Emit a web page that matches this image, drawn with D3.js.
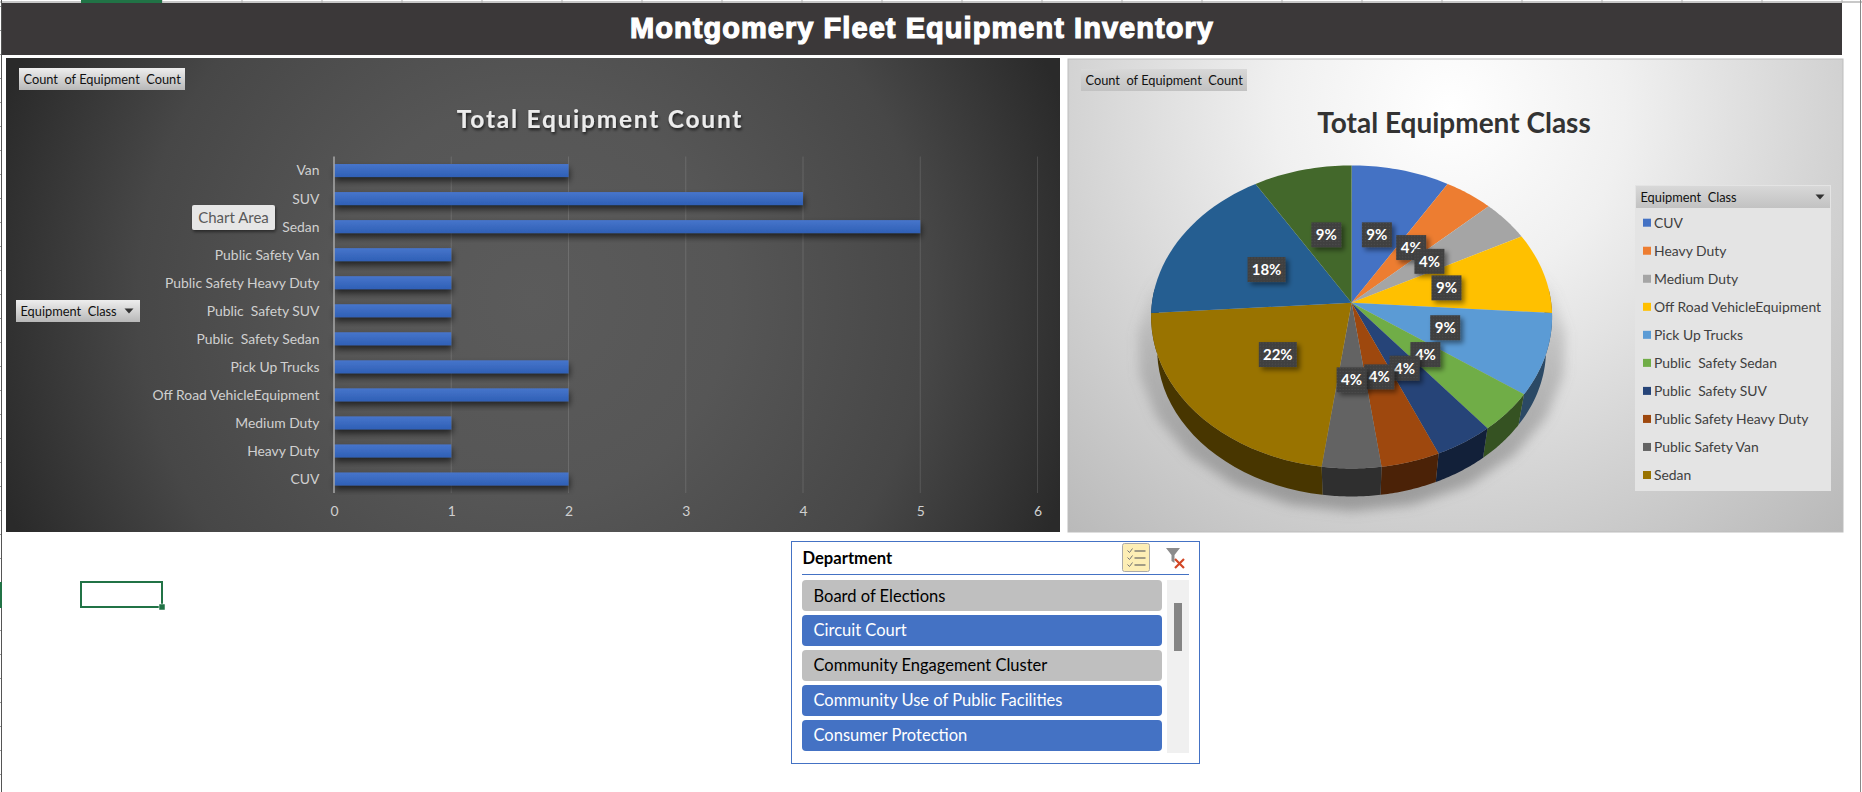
<!DOCTYPE html>
<html>
<head>
<meta charset="utf-8">
<script src="https://cdnjs.cloudflare.com/ajax/libs/d3/7.8.5/d3.min.js"></script>
<style>
  body { margin: 0; background: #fff; overflow: hidden; }
  svg { display: block; }
  text { font-family: Lato, "Open Sans", sans-serif; white-space: pre; }
</style>
</head>
<body>
<svg id="canvas"></svg>
<script>
const w = 1862, h = 792;

// data
const categories = ["CUV", "Heavy Duty", "Medium Duty", "Off Road VehicleEquipment", "Pick Up Trucks",
  "Public  Safety Sedan", "Public  Safety SUV", "Public Safety Heavy Duty", "Public Safety Van", "Sedan", "SUV", "Van"];
const counts = [2, 1, 1, 2, 2, 1, 1, 1, 1, 5, 4, 2];
const pieLabels = ["9%", "4%", "4%", "9%", "9%", "4%", "4%", "4%", "4%", "22%", "18%", "9%"];
const pieColors = ["#4472c4", "#ed7d31", "#a5a5a5", "#ffc000", "#5b9bd5", "#70ad47",
  "#264478", "#9e480e", "#636363", "#997300", "#255e91", "#43682b"];
const legendCount = 10; // the last two entries are cut off in the legend box
const xTicks = [0, 1, 2, 3, 4, 5, 6];
const departments = ["Board of Elections", "Circuit Court", "Community Engagement Cluster",
  "Community Use of Public Facilities", "Consumer Protection"];
const deptHasData = [false, true, false, true, true];

const svg = d3.select("#canvas").attr("width", w).attr("height", h);
const defs = svg.append("defs");

function gradient(id, stops, attrs, type) {
  const g = defs.append(type || "linearGradient").attr("id", id);
  Object.entries(attrs || {x1: 0, y1: 0, x2: 0, y2: 1}).forEach(([k, v]) => g.attr(k, v));
  stops.forEach(s => g.append("stop").attr("offset", s[0]).attr("stop-color", s[1]).attr("stop-opacity", s[2] === undefined ? 1 : s[2]));
}
gradient("bgDark", [[0, "#5b5b5b"], [0.35, "#565656"], [0.7, "#474747"], [1, "#2a2a2a"]],
  {gradientUnits: "userSpaceOnUse", cx: 533, cy: 300, r: 565}, "radialGradient");
gradient("bgLight", [[0, "#ffffff"], [0.3, "#f0f0f0"], [0.62, "#d6d6d6"], [1, "#b8b8b8"]],
  {gradientUnits: "userSpaceOnUse", cx: 1450, cy: 110, r: 580}, "radialGradient");
gradient("barFill", [[0, "#4775cb"], [1, "#2f60b6"]]);
gradient("btnDark", [[0, "#eeeeee"], [1, "#b8b8b8"]]);
gradient("btnLight", [[0, "#d8d8d8"], [1, "#c2c2c2"]]);
gradient("shadowFade", [[0, "#777", 0], [0.35, "#808080", 0.35], [1, "#777", 0.6]],
  {gradientUnits: "userSpaceOnUse", x1: 0, y1: 260, x2: 0, y2: 500});

const blur = (id, sd) => defs.append("filter").attr("id", id)
  .attr("x", "-20%").attr("y", "-20%").attr("width", "140%").attr("height", "140%")
  .append("feGaussianBlur").attr("stdDeviation", sd);
blur("blur6", 6);
const drop = (id, dx, dy, sd, op) => defs.append("filter").attr("id", id)
  .attr("x", "-30%").attr("y", "-50%").attr("width", "170%").attr("height", "220%")
  .append("feDropShadow").attr("dx", dx).attr("dy", dy).attr("stdDeviation", sd)
  .attr("flood-color", "#000").attr("flood-opacity", op);
drop("barShadow", 1, 4, 3, 0.6);
drop("textShadow", 1, 2, 1.5, 0.7);
drop("boxShadow", 3, 3, 2.5, 0.45);
drop("tipShadow", 1, 2, 1.5, 0.45);

const dots = defs.append("pattern").attr("id", "dots").attr("width", 3).attr("height", 3).attr("patternUnits", "userSpaceOnUse");
dots.append("rect").attr("width", 3).attr("height", 3).attr("fill", "#404040");
dots.append("rect").attr("width", 1).attr("height", 1).attr("fill", "#4f4f4f");

// --- sheet chrome ---
const chrome = svg.append("g");
chrome.append("rect").attr("x", 0).attr("y", 1).attr("width", w).attr("height", 2).attr("fill", "#c8c8c8");
chrome.selectAll(".col").data(d3.range(81.5, w, 80)).enter().append("rect")
  .attr("x", d => d).attr("y", 0).attr("width", 1).attr("height", 3).attr("fill", "#b0b0b0");
chrome.append("rect").attr("x", 81).attr("y", 0).attr("width", 81).attr("height", 3).attr("fill", "#217346");
chrome.selectAll(".row").data(d3.range(6, h, 24)).enter().append("rect")
  .attr("x", 0).attr("y", d => d).attr("width", 2).attr("height", 1).attr("fill", "#9a9a9a");
chrome.append("rect").attr("x", 1).attr("y", 0).attr("width", 1).attr("height", h).attr("fill", "#555");
chrome.append("rect").attr("x", 0).attr("y", 582).attr("width", 2).attr("height", 26).attr("fill", "#217346");
chrome.append("rect").attr("x", 1860).attr("y", 0).attr("width", 1).attr("height", h).attr("fill", "#888");
chrome.append("rect").attr("x", 81).attr("y", 582).attr("width", 81).attr("height", 25)
  .attr("fill", "none").attr("stroke", "#217346").attr("stroke-width", 2);
chrome.append("rect").attr("x", 159).attr("y", 604).attr("width", 6).attr("height", 6)
  .attr("fill", "#217346").attr("stroke", "#fff").attr("stroke-width", 0.5);

// --- banner ---
svg.append("rect").attr("x", 2).attr("y", 3).attr("width", 1840).attr("height", 52).attr("fill", "#3b3839");
svg.append("text").attr("x", 922).attr("y", 37.5).attr("text-anchor", "middle")
  .style("font-family", "'Liberation Sans', Arial, sans-serif").style("font-weight", 700).style("font-size", "29px")
  .style("letter-spacing", "1.05px")
  .attr("fill", "#fff").attr("stroke", "#fff").attr("stroke-width", 1.2).text("Montgomery Fleet Equipment Inventory");

// field button helper
function fieldButton(x, y, bw, bh, label, fill, arrow) {
  const g = svg.append("g");
  g.append("rect").attr("x", x).attr("y", y).attr("width", bw).attr("height", bh).attr("fill", fill);
  g.append("text").attr("x", x + 4.5).attr("y", y + bh / 2 + 4.5).attr("fill", "#111")
    .style("font-size", "12.8px").text(label);
  if (arrow) {
    g.append("path").attr("fill", "#333")
      .attr("d", `M${arrow - 4.5},${y + bh / 2 - 2.5}h9l-4.5,5z`);
  }
}

// --- left chart: horizontal bars ---
svg.append("rect").attr("x", 6).attr("y", 58).attr("width", 1054).attr("height", 474).attr("fill", "url(#bgDark)");

const x = d3.scaleLinear().domain([0, 6]).range([334, 1037.5]);
const y = d3.scaleBand().domain(categories).range([493, 156.5]).paddingInner(0.536).paddingOuter(0.268);

svg.append("g").selectAll("line").data(xTicks.slice(1)).enter().append("line")
  .attr("x1", d => x(d)).attr("x2", d => x(d)).attr("y1", 156.5).attr("y2", 493)
  .attr("stroke", "#fff").attr("stroke-opacity", 0.13).attr("stroke-width", 1);

svg.append("g").selectAll("rect").data(categories).enter().append("rect")
  .attr("x", x(0)).attr("y", d => y(d))
  .attr("width", (d, i) => x(counts[i]) - x(0)).attr("height", y.bandwidth())
  .attr("fill", "url(#barFill)").attr("filter", "url(#barShadow)");

svg.append("line").attr("x1", x(0)).attr("x2", x(0)).attr("y1", 156.5).attr("y2", 493)
  .attr("stroke", "#a8a8a8").attr("stroke-width", 1.5);

const xAxis = svg.append("g").attr("transform", "translate(0,493)")
  .call(d3.axisBottom(x).tickValues(xTicks).tickFormat(d3.format("d")).tickSize(0).tickPadding(13));
xAxis.select(".domain").remove();
xAxis.selectAll("text").attr("fill", "#d0d0d0").style("font-size", "13.9px").style("font-family", "Lato");

const yAxis = svg.append("g").attr("transform", "translate(334,0.5)").call(d3.axisLeft(y).tickSize(0).tickPadding(14.5));
yAxis.select(".domain").remove();
yAxis.selectAll("text").attr("fill", "#d0d0d0").style("font-size", "13.9px").style("font-family", "Lato");

svg.append("text").attr("x", 600).attr("y", 127.5).attr("text-anchor", "middle")
  .attr("fill", "#ececec").attr("filter", "url(#textShadow)")
  .style("font-size", "24.5px").style("font-weight", 700).style("letter-spacing", "1.75px")
  .text("Total Equipment Count");

fieldButton(19, 68, 166, 22, "Count  of Equipment  Count", "url(#btnDark)");
fieldButton(16, 300, 124, 22, "Equipment  Class", "url(#btnDark)", 129);

svg.append("rect").attr("x", 192).attr("y", 205).attr("width", 83).attr("height", 25).attr("rx", 2)
  .attr("fill", "#e6e6e6").attr("filter", "url(#tipShadow)");
svg.append("text").attr("x", 233.5).attr("y", 223).attr("text-anchor", "middle").attr("fill", "#595959")
  .style("font-size", "15px").text("Chart Area");

// --- right chart: pie in perspective ---
svg.append("rect").attr("x", 1068).attr("y", 59).attr("width", 775).attr("height", 473)
  .attr("fill", "url(#bgLight)").attr("stroke", "#bdbdbd").attr("stroke-width", 1);

const cx = 1351.6, cy = 302.7, rx = 199.6, ry = 150.2, persp = 0.0938;
const wallDrop = 33.5, wallScale = 0.97;
function project(angle, f, drop) {
  const u = Math.sin(angle) * f, v = Math.cos(angle) * f, k = 1 + persp * v;
  return [cx + rx * u / k, cy - ry * v / k + (drop || 0)];
}
const arcAngles = (a0, a1) => d3.range(0, 25).map(i => a0 + (a1 - a0) * i / 24);
const poly = d3.line();
const slices = d3.pie().sort(null)(counts);
const pie = svg.append("g");

// soft shadow under the pie
pie.append("path")
  .attr("d", poly(arcAngles(0, Math.PI * 2).map(a => project(a, 1.07, 30))) + "Z")
  .attr("fill", "url(#shadowFade)").attr("filter", "url(#blur6)");

// side walls, only the part facing the viewer
pie.selectAll(".wall").data(slices).enter().append("path")
  .attr("d", d => {
    const a0 = Math.max(d.startAngle, Math.PI * 0.47), a1 = Math.min(d.endAngle, Math.PI * 1.53);
    if (a1 <= a0) return null;
    const top = arcAngles(a0, a1).map(a => project(a, 1));
    const bot = arcAngles(a1, a0).map(a => project(a, wallScale, wallDrop));
    return poly(top.concat(bot)) + "Z";
  })
  .attr("fill", d => d3.rgb(pieColors[d.index]).darker(2.1));

pie.selectAll(".slice").data(slices).enter().append("path")
  .attr("d", d => poly([[cx, cy]].concat(arcAngles(d.startAngle, d.endAngle).map(a => project(a, 1)))) + "Z")
  .attr("fill", d => pieColors[d.index]);

const labels = pie.selectAll(".lab").data(slices).enter().append("g")
  .attr("transform", d => `translate(${project((d.startAngle + d.endAngle) / 2, 0.49)})`);
labels.append("rect")
  .attr("x", (d, i) => pieLabels[i].length > 2 ? -19 : -15).attr("y", -12.5)
  .attr("width", (d, i) => pieLabels[i].length > 2 ? 38 : 30).attr("height", 25)
  .attr("fill", "url(#dots)").attr("filter", "url(#boxShadow)");
labels.append("text").attr("text-anchor", "middle").attr("y", 5.5)
  .attr("fill", "#fff").style("font-size", "15px").style("font-weight", 700)
  .text((d, i) => pieLabels[i]);

svg.append("text").attr("x", 1454).attr("y", 133).attr("text-anchor", "middle").attr("fill", "#333")
  .style("font-size", "28px").style("font-weight", 700).text("Total Equipment Class");

fieldButton(1081, 69, 166, 22, "Count  of Equipment  Count", "url(#btnLight)");

// legend
svg.append("rect").attr("x", 1635).attr("y", 185).attr("width", 196).attr("height", 306).attr("fill", "#e4e4e4");
fieldButton(1636, 186, 194, 22, "Equipment  Class", "url(#btnLight)", 1820);
const legendY = d3.scalePoint().domain(categories.slice(0, legendCount)).range([222.7, 475]);
const legend = svg.append("g").selectAll("g").data(categories.slice(0, legendCount)).enter().append("g")
  .attr("transform", d => `translate(1643,${legendY(d)})`);
legend.append("rect").attr("y", -4).attr("width", 8).attr("height", 8).attr("fill", (d, i) => pieColors[i]);
legend.append("text").attr("x", 11).attr("y", 5).attr("fill", "#404040").style("font-size", "13.9px").text(d => d);

// --- slicer ---
const sl = svg.append("g");
sl.append("rect").attr("x", 791.5).attr("y", 541.5).attr("width", 408).attr("height", 222)
  .attr("fill", "#fff").attr("stroke", "#4472c4").attr("stroke-width", 1);
sl.append("text").attr("x", 802.5).attr("y", 564).attr("fill", "#000")
  .style("font-size", "16.6px").style("font-weight", 700).text("Department");
sl.append("line").attr("x1", 802).attr("x2", 1189).attr("y1", 574.5).attr("y2", 574.5).attr("stroke", "#4472c4");

const rowY = d3.scaleBand().domain(departments).range([580, 751]).paddingInner(0.114).paddingOuter(0);
const rows = sl.selectAll(".dept").data(departments).enter().append("g")
  .attr("transform", d => `translate(802,${rowY(d)})`);
rows.append("rect").attr("width", 360).attr("height", rowY.bandwidth()).attr("rx", 4)
  .attr("fill", (d, i) => deptHasData[i] ? "#4472c4" : "#bfbfbf");
rows.append("text").attr("x", 11.5).attr("y", rowY.bandwidth() / 2 + 6)
  .attr("fill", (d, i) => deptHasData[i] ? "#fff" : "#000")
  .style("font-size", "16.5px").text(d => d);

sl.append("rect").attr("x", 1167).attr("y", 580).attr("width", 22).attr("height", 173).attr("fill", "#f0f0f0");
sl.append("rect").attr("x", 1174).attr("y", 603).attr("width", 8).attr("height", 48).attr("fill", "#858585");

// multi-select and clear-filter icons
const ms = sl.append("g").attr("transform", "translate(1122.5,543.5)");
ms.append("rect").attr("width", 27).attr("height", 28).attr("rx", 2).attr("fill", "#fdeeb5").attr("stroke", "#aaa");
d3.range(3).forEach(i => {
  ms.append("path").attr("d", `M5,${7 + i * 7}l2,2l3,-4`).attr("fill", "none").attr("stroke", "#777").attr("stroke-width", 1);
  ms.append("line").attr("x1", 12).attr("x2", 23).attr("y1", 7.5 + i * 7).attr("y2", 7.5 + i * 7).attr("stroke", "#666").attr("stroke-width", 1.2);
});
sl.append("path").attr("d", "M1166,548h14l-5.5,7v8l-3,-2v-6z").attr("fill", "#8c8c8c");
sl.append("path").attr("d", "M1175,559l9,9M1184,559l-9,9").attr("stroke", "#d24726").attr("stroke-width", 2.2);
</script>
</body>
</html>
